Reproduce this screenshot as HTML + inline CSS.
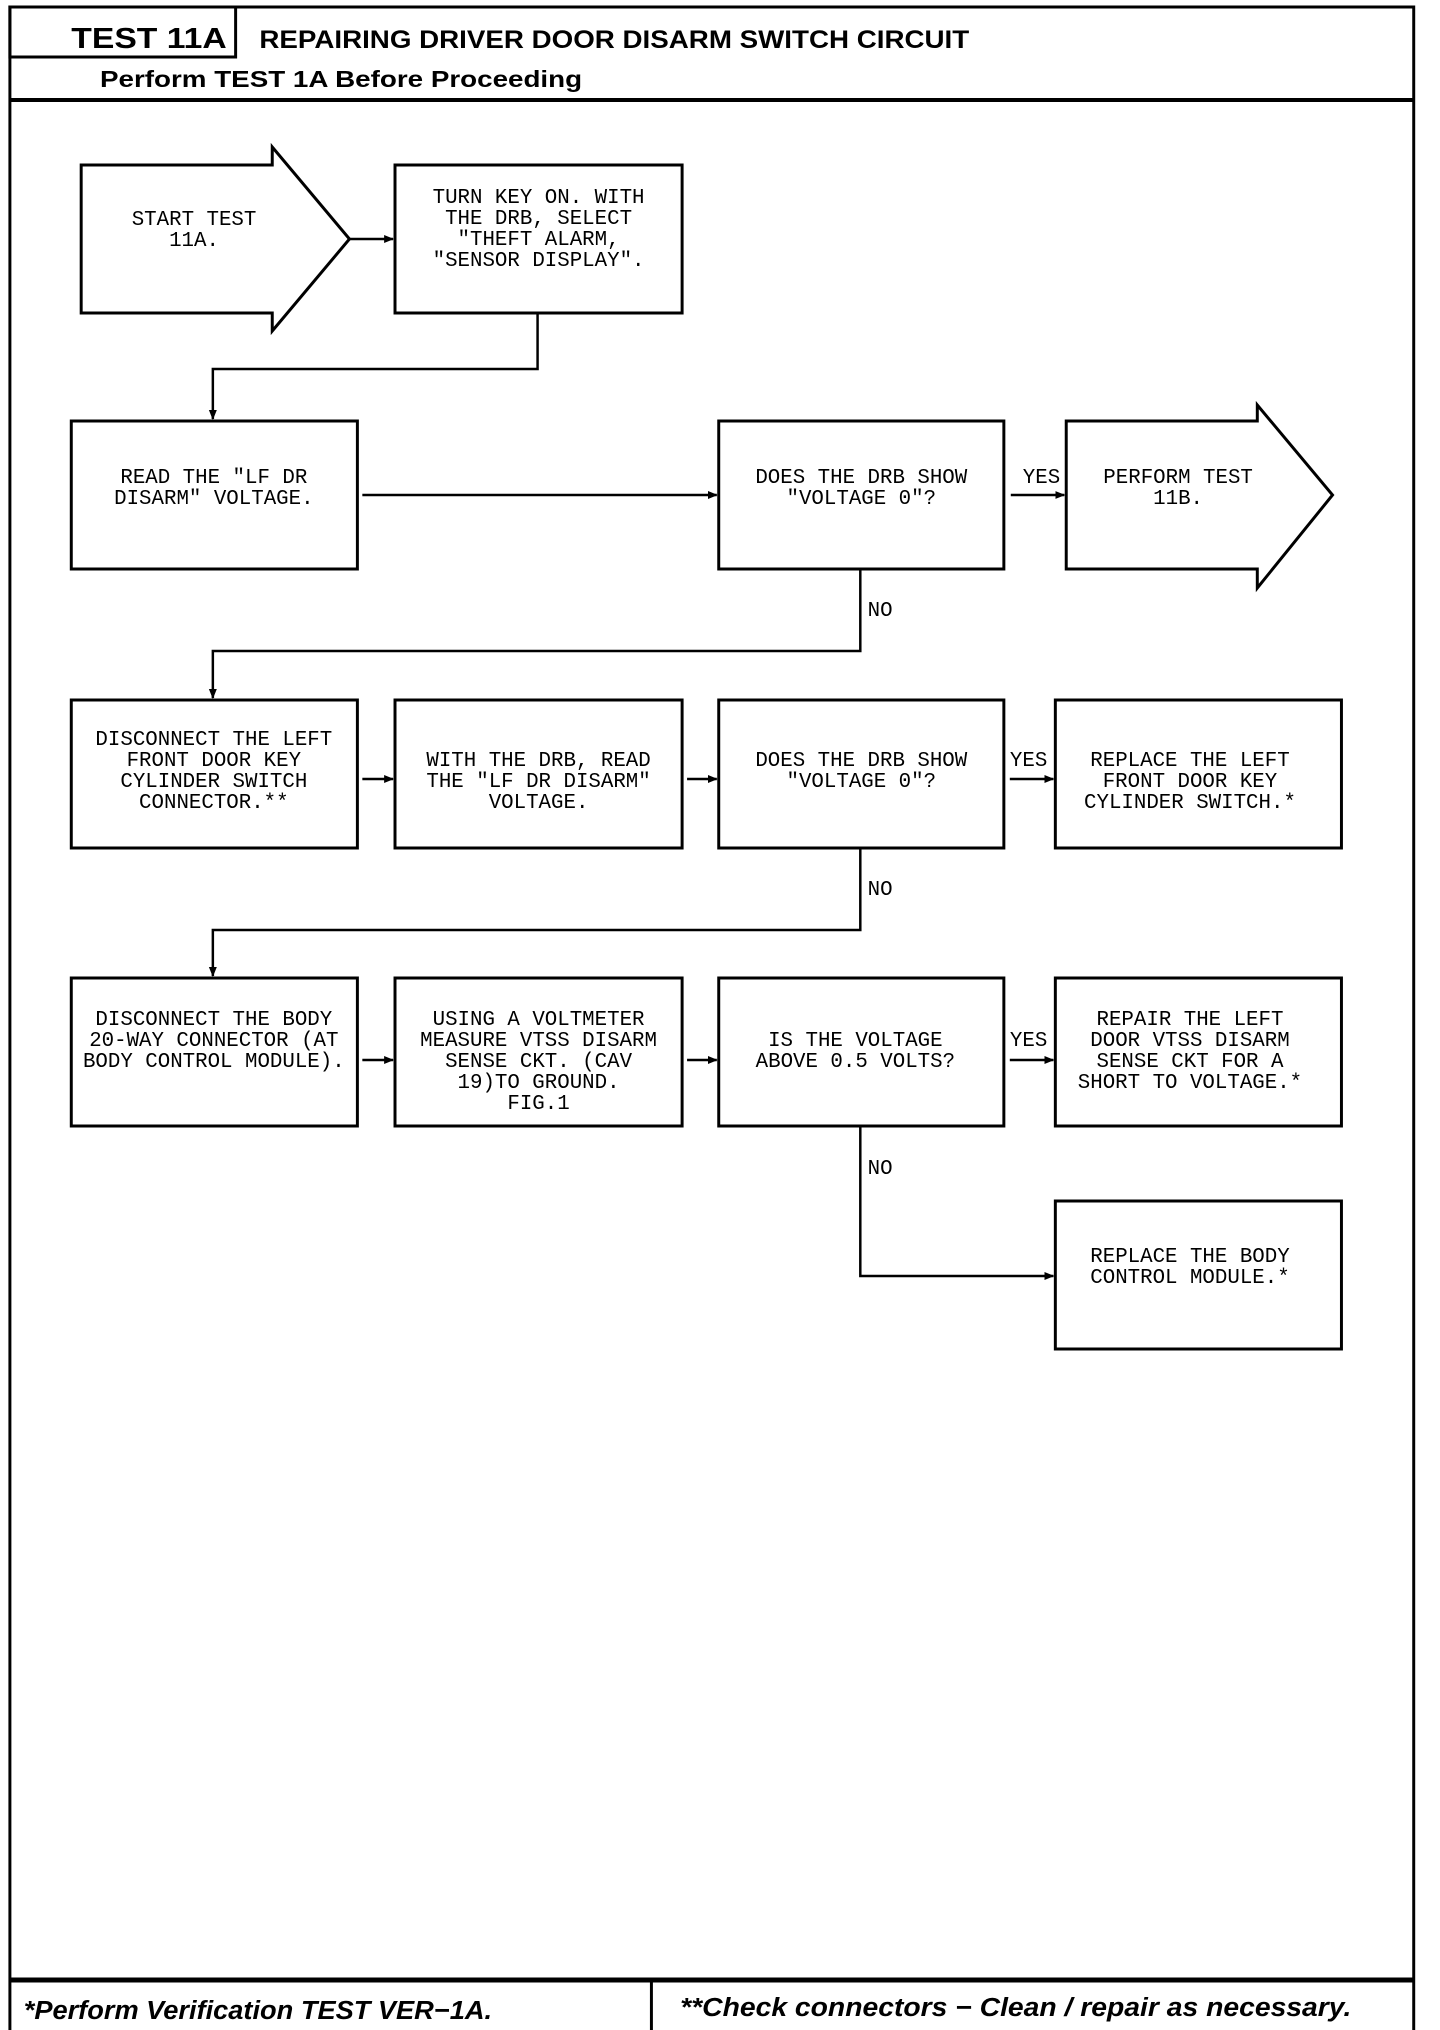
<!DOCTYPE html>
<html><head><meta charset="utf-8"><style>
html,body{margin:0;padding:0;background:#fff;}
svg{display:block;}
.t{font-family:"Liberation Mono",monospace;font-size:21px;text-anchor:middle;fill:#000;}
.h{font-family:"Liberation Sans",sans-serif;font-weight:bold;fill:#000;}
.f{font-family:"Liberation Sans",sans-serif;font-weight:bold;font-style:italic;fill:#000;font-size:26px;}
</style></head><body>
<svg width="1440" height="2030" viewBox="0 0 1440 2030" xmlns="http://www.w3.org/2000/svg">
<defs><marker id="a" markerWidth="10" markerHeight="10" refX="9" refY="5" orient="auto" markerUnits="userSpaceOnUse"><path d="M0,1 L10,5 L0,9 z" fill="#000"/></marker></defs>
<g transform="scale(0.99,1)">
<g fill="none" stroke="#000">
<rect x="10" y="7" width="1418" height="2030" stroke-width="3"/>
<rect x="10" y="7" width="228" height="50" stroke-width="3"/>
<line x1="10" y1="100" x2="1428" y2="100" stroke-width="4"/>
<line x1="10" y1="1980" x2="1428" y2="1980" stroke-width="5"/>
<line x1="658" y1="1980" x2="658" y2="2030" stroke-width="3"/>
<g stroke-width="3">
<path d="M82,165 H275 V147 L353,239 L275,331 V313 H82 Z"/>
<rect x="399" y="165" width="290" height="148"/>
<rect x="72" y="421" width="289" height="148"/>
<rect x="726" y="421" width="288" height="148"/>
<path d="M1077,421 H1270 V405 L1346,495 L1270,588 V569 H1077 Z"/>
<rect x="72" y="700" width="289" height="148"/>
<rect x="399" y="700" width="290" height="148"/>
<rect x="726" y="700" width="288" height="148"/>
<rect x="1066" y="700" width="289" height="148"/>
<rect x="72" y="978" width="289" height="148"/>
<rect x="399" y="978" width="290" height="148"/>
<rect x="726" y="978" width="288" height="148"/>
<rect x="1066" y="978" width="289" height="148"/>
<rect x="1066" y="1201" width="289" height="148"/>
</g>
<g stroke-width="2.5" marker-end="url(#a)">
<line x1="353" y1="239" x2="397" y2="239"/>
<path d="M543,313 V369 H215 V419"/>
<line x1="366" y1="495" x2="724" y2="495"/>
<line x1="1021" y1="495" x2="1075" y2="495"/>
<path d="M869,569 V651 H215 V698"/>
<line x1="366" y1="779" x2="397" y2="779"/>
<line x1="694" y1="779" x2="724" y2="779"/>
<line x1="1020" y1="779" x2="1064" y2="779"/>
<path d="M869,848 V930 H215 V976"/>
<line x1="366" y1="1060" x2="397" y2="1060"/>
<line x1="694" y1="1060" x2="724" y2="1060"/>
<line x1="1020" y1="1060" x2="1064" y2="1060"/>
<path d="M869,1126 V1276 H1064"/>
</g>
</g>
<text class="h" x="72" y="48" font-size="29" textLength="157" lengthAdjust="spacingAndGlyphs">TEST 11A</text>
<text class="h" x="262" y="48" font-size="25" textLength="717" lengthAdjust="spacingAndGlyphs">REPAIRING DRIVER DOOR DISARM SWITCH CIRCUIT</text>
<text class="h" x="101" y="87" font-size="23" textLength="487" lengthAdjust="spacingAndGlyphs">Perform TEST 1A Before Proceeding</text>
<text class="f" x="24" y="2019" textLength="473" lengthAdjust="spacingAndGlyphs">*Perform Verification TEST VER−1A.</text>
<text class="f" x="687" y="2016" textLength="678" lengthAdjust="spacingAndGlyphs">**Check connectors − Clean / repair as necessary.</text>
<g class="t">
<text x="196" y="225">START TEST<tspan x="196" dy="21">11A.</tspan></text>
<text x="544" y="203">TURN KEY ON. WITH<tspan x="544" dy="21">THE DRB, SELECT</tspan><tspan x="544" dy="21">"THEFT ALARM,</tspan><tspan x="544" dy="21">"SENSOR DISPLAY".</tspan></text>
<text x="216" y="483">READ THE "LF DR<tspan x="216" dy="21">DISARM" VOLTAGE.</tspan></text>
<text x="870" y="483">DOES THE DRB SHOW<tspan x="870" dy="21">"VOLTAGE 0"?</tspan></text>
<text x="1190" y="483">PERFORM TEST<tspan x="1190" dy="21">11B.</tspan></text>
<text x="1052" y="483">YES</text>
<text x="889" y="616">NO</text>
<text x="216" y="745">DISCONNECT THE LEFT<tspan x="216" dy="21">FRONT DOOR KEY</tspan><tspan x="216" dy="21">CYLINDER SWITCH</tspan><tspan x="216" dy="21">CONNECTOR.**</tspan></text>
<text x="544" y="766">WITH THE DRB, READ<tspan x="544" dy="21">THE "LF DR DISARM"</tspan><tspan x="544" dy="21">VOLTAGE.</tspan></text>
<text x="870" y="766">DOES THE DRB SHOW<tspan x="870" dy="21">"VOLTAGE 0"?</tspan></text>
<text x="1039" y="766">YES</text>
<text x="1202" y="766">REPLACE THE LEFT<tspan x="1202" dy="21">FRONT DOOR KEY</tspan><tspan x="1202" dy="21">CYLINDER SWITCH.*</tspan></text>
<text x="889" y="895">NO</text>
<text x="216" y="1025">DISCONNECT THE BODY<tspan x="216" dy="21">20-WAY CONNECTOR (AT</tspan><tspan x="216" dy="21">BODY CONTROL MODULE).</tspan></text>
<text x="544" y="1025">USING A VOLTMETER<tspan x="544" dy="21">MEASURE VTSS DISARM</tspan><tspan x="544" dy="21">SENSE CKT. (CAV</tspan><tspan x="544" dy="21">19)TO GROUND.</tspan><tspan x="544" dy="21">FIG.1</tspan></text>
<text x="864" y="1046">IS THE VOLTAGE<tspan x="864" dy="21">ABOVE 0.5 VOLTS?</tspan></text>
<text x="1039" y="1046">YES</text>
<text x="1202" y="1025">REPAIR THE LEFT<tspan x="1202" dy="21">DOOR VTSS DISARM</tspan><tspan x="1202" dy="21">SENSE CKT FOR A</tspan><tspan x="1202" dy="21">SHORT TO VOLTAGE.*</tspan></text>
<text x="889" y="1174">NO</text>
<text x="1202" y="1262">REPLACE THE BODY<tspan x="1202" dy="21">CONTROL MODULE.*</tspan></text>
</g>
</g>
</svg>
</body></html>
